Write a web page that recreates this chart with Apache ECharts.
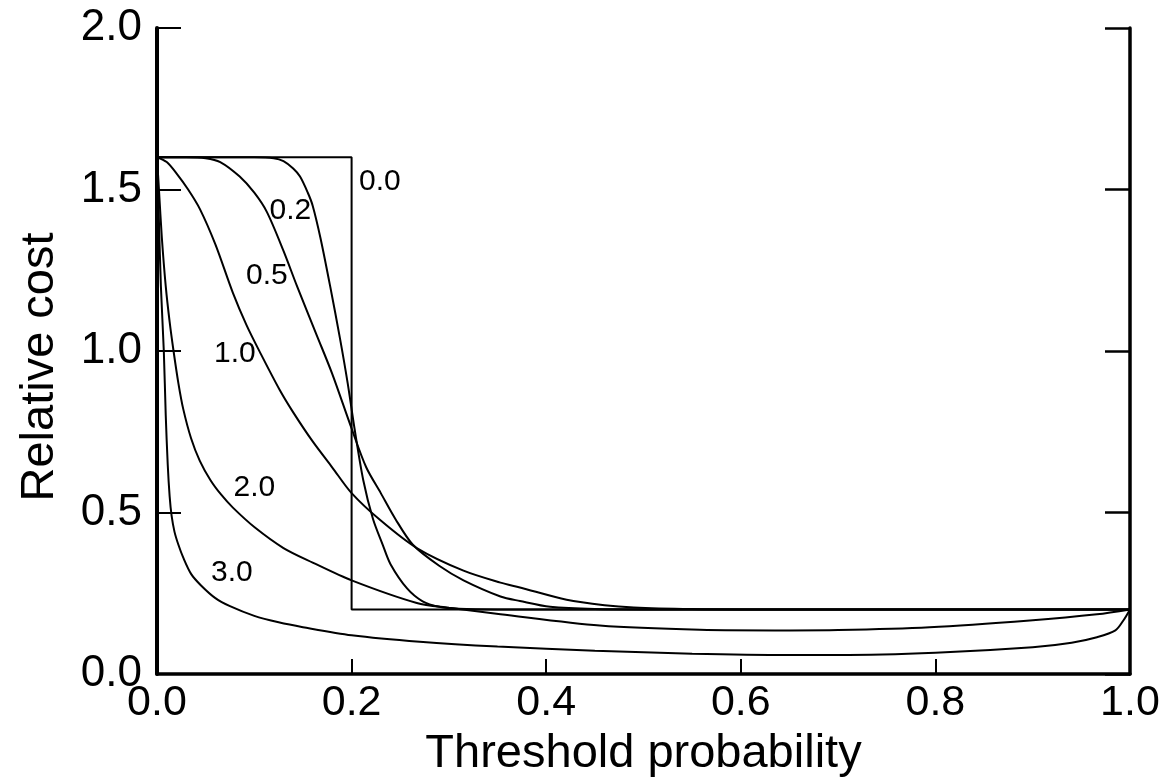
<!DOCTYPE html>
<html>
<head>
<meta charset="utf-8">
<script src="https://cdn.jsdelivr.net/npm/echarts@6/dist/echarts.min.js"></script>
<style>
  html, body { margin: 0; padding: 0; background: #fff; }
  #chart { width: 1167px; height: 783px; }
</style>
</head>
<body>
<div id="chart"></div>
<script>
// curves: [threshold probability, relative cost]
var curve00 = [[0, 1.6], [0.2, 1.6], [0.2, 0.2], [1, 0.2]];
var curve02 = [[0, 1.6], [0.1, 1.6], [0.12, 1.597], [0.13, 1.588], [0.14, 1.565], [0.147, 1.54], [0.155, 1.49],
  [0.16, 1.45], [0.168, 1.35], [0.178, 1.2], [0.188, 1.04], [0.196, 0.9], [0.203, 0.76], [0.212, 0.6],
  [0.222, 0.48], [0.232, 0.4], [0.24, 0.34], [0.257, 0.265], [0.273, 0.225], [0.29, 0.208], [0.31, 0.202],
  [0.35, 0.2], [1, 0.2]];
var curve05 = [[0, 1.6], [0.03, 1.6], [0.05, 1.597], [0.065, 1.585], [0.085, 1.54], [0.1, 1.49], [0.113, 1.43],
  [0.13, 1.31], [0.144, 1.2], [0.164, 1.05], [0.18, 0.93], [0.2, 0.76], [0.215, 0.64], [0.23, 0.56],
  [0.245, 0.48], [0.263, 0.4], [0.29, 0.335], [0.315, 0.29], [0.353, 0.24], [0.373, 0.226], [0.404, 0.208],
  [0.45, 0.201], [0.5, 0.2], [1, 0.2]];
var curve10 = [[0, 1.6], [0.01, 1.585], [0.02, 1.55], [0.032, 1.5], [0.044, 1.44], [0.06, 1.33], [0.078, 1.18],
  [0.092, 1.08], [0.106, 0.995], [0.126, 0.88], [0.14, 0.81], [0.16, 0.72], [0.18, 0.64], [0.2, 0.56],
  [0.23, 0.475], [0.267, 0.39], [0.315, 0.32], [0.353, 0.283], [0.373, 0.268], [0.421, 0.23], [0.46, 0.213],
  [0.49, 0.206], [0.55, 0.201], [0.6, 0.2], [1, 0.2]];
var curve20 = [[0, 1.6], [0.002, 1.5], [0.005, 1.35], [0.009, 1.2], [0.013, 1.09], [0.017, 1.0], [0.022, 0.9],
  [0.027, 0.82], [0.035, 0.73], [0.044, 0.66], [0.055, 0.6], [0.066, 0.555], [0.078, 0.515], [0.1, 0.455],
  [0.13, 0.39], [0.16, 0.345], [0.2, 0.29], [0.267, 0.22], [0.3, 0.205], [0.353, 0.185], [0.455, 0.15],
  [0.558, 0.137], [0.65, 0.135], [0.7, 0.136], [0.794, 0.145], [0.897, 0.166], [0.966, 0.185], [1, 0.2]];
var curve30 = [[0, 1.6], [0.002, 1.4], [0.004, 1.2], [0.007, 1.0], [0.009, 0.8], [0.011, 0.65], [0.013, 0.55],
  [0.015, 0.49], [0.018, 0.44], [0.022, 0.4], [0.027, 0.36], [0.035, 0.31], [0.045, 0.275], [0.06, 0.235],
  [0.075, 0.21], [0.1, 0.18], [0.125, 0.16], [0.15, 0.145], [0.2, 0.12], [0.27, 0.1], [0.35, 0.085],
  [0.45, 0.072], [0.55, 0.063], [0.65, 0.059], [0.7, 0.059], [0.8, 0.066], [0.9, 0.083], [0.94, 0.097],
  [0.966, 0.114], [0.985, 0.135], [0.993, 0.165], [1, 0.2]];

var curveNames = ['0.0', '0.2', '0.5', '1.0', '2.0', '3.0'];
// where each curve's name is written (data coordinates)
var labelX = [0.229, 0.137, 0.113, 0.08, 0.1, 0.077];
var labelY = [1.525, 1.433, 1.233, 0.992, 0.576, 0.314];

var FONT = '"Liberation Sans", Arial, Helvetica, sans-serif';
var curves = [curve00, curve02, curve05, curve10, curve20, curve30];

var chart = echarts.init(document.getElementById('chart'));

var series = [];
for (var i = 0; i < curves.length; i++) {
  series.push({
    name: curveNames[i],
    type: 'line',
    data: curves[i],
    showSymbol: false,
    smooth: i === 0 ? false : 0.3,
    lineStyle: { color: '#000', width: 2 },
    silent: true,
    z: 3
  });
}
var labelData = [];
for (var j = 0; j < curveNames.length; j++) {
  labelData.push({ name: curveNames[j], value: [labelX[j], labelY[j]] });
}
series.push({
  type: 'scatter',
  data: labelData,
  symbolSize: 0,
  silent: true,
  itemStyle: { opacity: 1 },
  label: {
    show: true,
    position: 'inside',
    formatter: '{b}',
    color: '#000',
    opacity: 1,
    fontFamily: FONT,
    fontSize: 30
  }
});

chart.setOption({
  backgroundColor: '#fff',
  animation: false,
  grid: { left: 157, right: 37, top: 28, bottom: 106 },
  xAxis: {
    type: 'value',
    min: 0, max: 1, interval: 0.2,
    name: 'Threshold probability',
    nameLocation: 'middle',
    nameGap: 57,
    nameTextStyle: { fontFamily: FONT, fontSize: 47, color: '#000' },
    axisLine: { show: true, onZero: false, lineStyle: { color: '#000', width: 3.5 } },
    axisTick: { show: true, inside: true, length: 15, lineStyle: { color: '#000', width: 2 } },
    axisLabel: {
      fontFamily: FONT, fontSize: 43, color: '#000', margin: 8,
      formatter: function (v) { return v.toFixed(1); }
    },
    splitLine: { show: false }
  },
  yAxis: [{
    type: 'value',
    min: 0, max: 2, interval: 0.5,
    name: 'Relative cost',
    nameLocation: 'middle',
    nameGap: 93,
    nameRotate: 90,
    nameTextStyle: { fontFamily: FONT, fontSize: 47, color: '#000', padding: [0, 32, 0, 0] },
    axisLine: { show: true, onZero: false, lineStyle: { color: '#000', width: 4 } },
    axisTick: { show: true, inside: true, length: 24, lineStyle: { color: '#000', width: 2 } },
    axisLabel: {
      fontFamily: FONT, fontSize: 44, color: '#000', margin: 15,
      formatter: function (v) { return v.toFixed(1); }
    },
    splitLine: { show: false }
  }, {
    type: 'value',
    position: 'right',
    min: 0, max: 2, interval: 0.5,
    axisLine: { show: true, onZero: false, lineStyle: { color: '#000', width: 3.5 } },
    axisTick: { show: true, inside: true, length: 25, lineStyle: { color: '#000', width: 2.5 } },
    axisLabel: { show: false },
    splitLine: { show: false }
  }],
  series: series
});
</script>
</body>
</html>
